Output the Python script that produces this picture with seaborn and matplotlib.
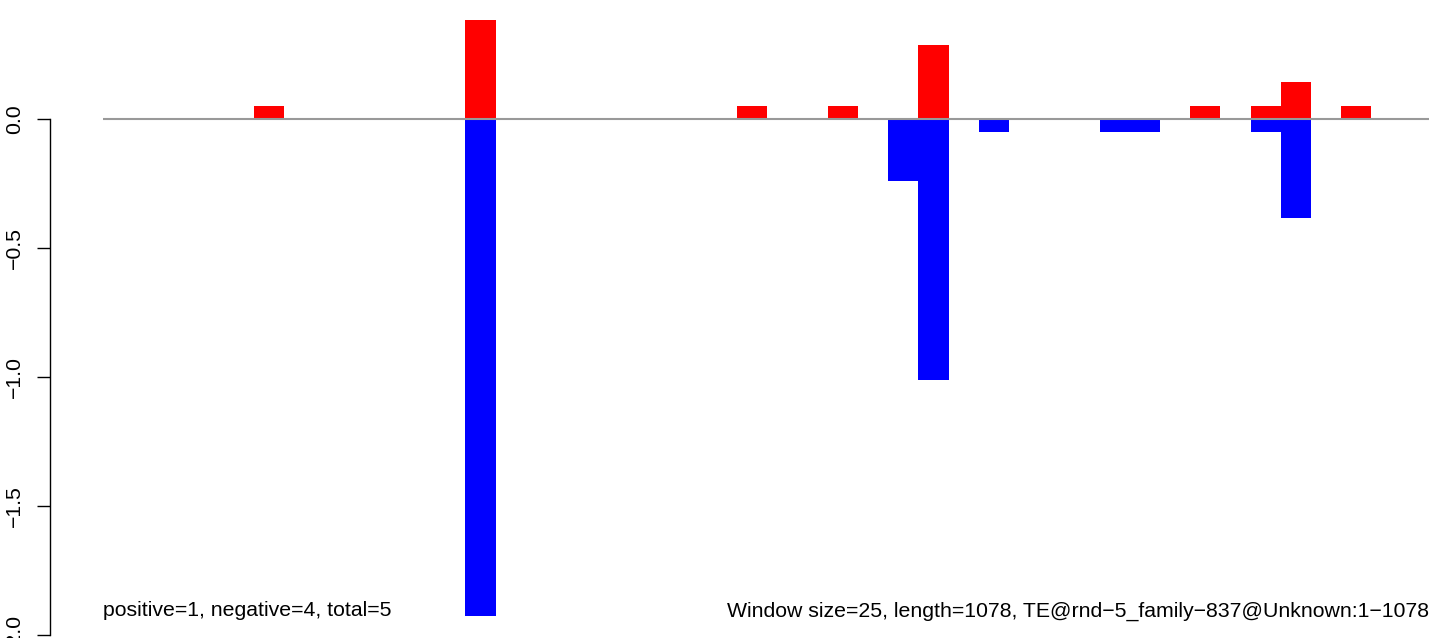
import numpy as np
import pandas as pd
import matplotlib
matplotlib.use('Agg')
import matplotlib.pyplot as plt
import seaborn as sns

# 44 windows of size 25 over length 1078
windows = list(range(44))
pos_idx = [5, 12, 21, 24, 27, 36, 38, 39, 41]
pos_val = [0.048, 0.383, 0.048, 0.048, 0.287, 0.048, 0.048, 0.144, 0.048]
neg_idx = [12, 26, 27, 29, 33, 34, 38, 39]
neg_val = [-1.924, -0.242, -1.01, -0.05, -0.05, -0.05, -0.05, -0.386]
left_label = 'positive=1, negative=4, total=5'
right_label = 'Window size=25, length=1078, TE@rnd\u22125_family\u2212837@Unknown:1\u22121078'

positive = np.zeros(len(windows))
positive[pos_idx] = pos_val
negative = np.zeros(len(windows))
negative[neg_idx] = neg_val
df = pd.DataFrame({'window': windows, 'positive': positive, 'negative': negative})

sns.set_style('white')
plt.rcParams['font.family'] = ['Liberation Sans', 'DejaVu Sans']
plt.rcParams['text.color'] = 'black'
plt.rcParams['ytick.color'] = 'black'

W, H = 1429, 638
fig = plt.figure(figsize=(W / 100, H / 100), dpi=100)
ax = fig.add_axes([50 / W, 0, 1 - 50 / W, 1])

sns.barplot(data=df, x='window', y='positive', color='#FF0000', saturation=1,
            width=1, errorbar=None, linewidth=0, ax=ax)
sns.barplot(data=df, x='window', y='negative', color='#0000FF', saturation=1,
            width=1, errorbar=None, linewidth=0, ax=ax)
ax.hlines(0, -0.5, len(windows) - 0.5, color='#999999', linewidth=1.5, zorder=5)

px = 30.2  # pixels per window
zero_y, per_unit = 118.8, 258.2
ax.set_xlim(-0.5 - 53 / px, -0.5 + (W - 103) / px)
ax.set_ylim(-(H - zero_y) / per_unit, zero_y / per_unit)

for s in ['top', 'right', 'bottom']:
    ax.spines[s].set_visible(False)
ax.spines['left'].set_bounds(-2, 0)
ax.spines['left'].set_linewidth(1.0)
ax.spines['left'].set_color('black')
ax.set_xticks([])
ax.set_yticks([0, -0.5, -1.0, -1.5, -2.0])
ax.set_yticklabels(['0.0', '\u22120.5', '\u22121.0', '\u22121.5', '\u22122.0'],
                   rotation=90, va='center', fontsize=15.3, color='black')
ax.tick_params(axis='y', length=9.5, width=1.0, pad=9, left=True, color='black')
ax.set_xlabel('')
ax.set_ylabel('')

fig.text(103 / W, (H - 616.5) / H, left_label, fontsize=15.3, va='baseline', ha='left', color='black')
fig.text(727 / W, (H - 616.5) / H, right_label, fontsize=15.3, va='baseline', ha='left', color='black')

fig.savefig('out.png', dpi=100)
